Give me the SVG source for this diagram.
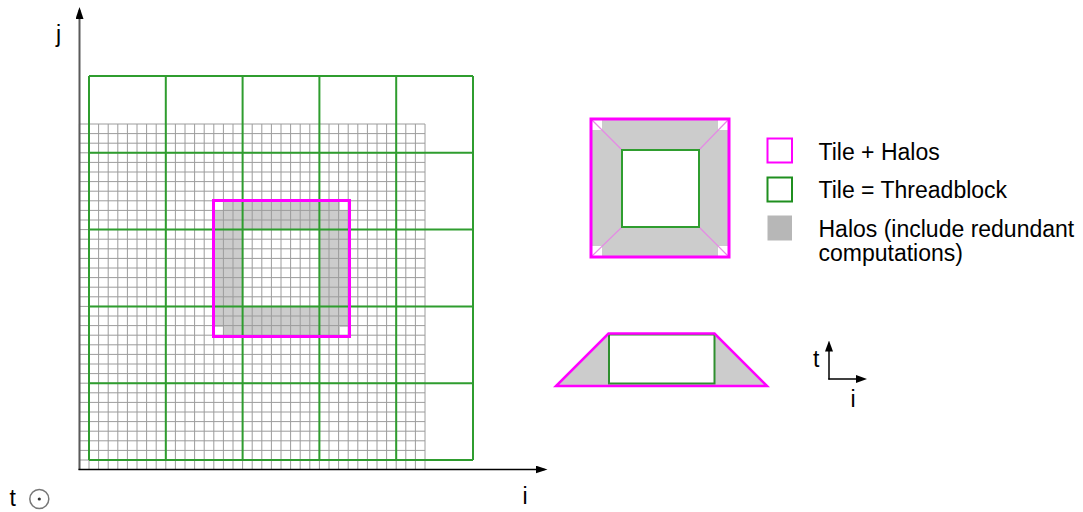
<svg xmlns="http://www.w3.org/2000/svg" width="1083" height="512" viewBox="0 0 1083 512">
<style>
  text { font-family: "Liberation Sans", Arial, sans-serif; font-size: 23px; fill: #000; }
  .grid { stroke: #9c9c9c; stroke-width: 1; fill: none; }
  .tile { stroke: #2f9d2f; stroke-width: 2; fill: none; }
  .halo { stroke: #ff00ff; stroke-width: 3; fill: none; }
  .halofill { fill: #cccccc; stroke: none; }
  .diag { stroke: #e58ae5; stroke-width: 1.2; }
</style>
<defs>
  <marker id="arr" viewBox="0 0 12 8" refX="9" refY="4" markerWidth="12" markerHeight="8" markerUnits="userSpaceOnUse" orient="auto">
    <path d="M0,0 L12,4 L0,8 Z" fill="#000"/>
  </marker>
  <marker id="arrs" viewBox="0 0 11 8" refX="8" refY="4" markerWidth="11" markerHeight="8" markerUnits="userSpaceOnUse" orient="auto">
    <path d="M0,0 L11,4 L0,8 Z" fill="#000"/>
  </marker>
</defs>
<rect width="1083" height="512" fill="#fff"/>

<g id="main-halo-fill">
  <path class="halofill" fill-rule="evenodd" d="M223.1,200.5 H339.9 V210.1 H349.5 V326.9 H339.9 V336.5 H223.1 V326.9 H213.5 V210.1 H223.1 Z M242.6,229.6 V306.4 H319.4 V229.6 Z"/>
</g>

<g id="iteration-grid">
  <path class="grid" d="M79.4 124V469.6M89 124V469.6M98.6 124V469.6M108.2 124V469.6M117.8 124V469.6M127.4 124V469.6M137 124V469.6M146.6 124V469.6M156.2 124V469.6M165.8 124V469.6M175.4 124V469.6M185 124V469.6M194.6 124V469.6M204.2 124V469.6M213.8 124V469.6M223.4 124V469.6M233 124V469.6M242.6 124V469.6M252.2 124V469.6M261.8 124V469.6M271.4 124V469.6M281 124V469.6M290.6 124V469.6M300.2 124V469.6M309.8 124V469.6M319.4 124V469.6M329 124V469.6M338.6 124V469.6M348.2 124V469.6M357.8 124V469.6M367.4 124V469.6M377 124V469.6M386.6 124V469.6M396.2 124V469.6M405.8 124V469.6M415.4 124V469.6M425 124V469.6
  M79.4 124H425M79.4 133.6H425M79.4 143.2H425M79.4 152.8H425M79.4 162.4H425M79.4 172H425M79.4 181.6H425M79.4 191.2H425M79.4 200.8H425M79.4 210.4H425M79.4 220H425M79.4 229.6H425M79.4 239.2H425M79.4 248.8H425M79.4 258.4H425M79.4 268H425M79.4 277.6H425M79.4 287.2H425M79.4 296.8H425M79.4 306.4H425M79.4 316H425M79.4 325.6H425M79.4 335.2H425M79.4 344.8H425M79.4 354.4H425M79.4 364H425M79.4 373.6H425M79.4 383.2H425M79.4 392.8H425M79.4 402.4H425M79.4 412H425M79.4 421.6H425M79.4 431.2H425M79.4 440.8H425M79.4 450.4H425M79.4 460H425"/>
</g>

<g id="tiles">
  <path class="tile" d="M89 76V460M165.8 76V460M242.6 76V460M319.4 76V460M396.2 76V460M473 76V460M89 76H473M89 152.8H473M89 229.6H473M89 306.4H473M89 383.2H473M89 460H473"/>
</g>

<g id="main-tile-halos">
  <rect class="halo" x="213.5" y="200.5" width="136" height="136"/>
</g>

<g id="connectors">
  <line id="axis-j" x1="79.5" y1="470" x2="79.5" y2="10" stroke="#5a5a5a" stroke-width="2" marker-end="url(#arr)"/>
  <line id="axis-i" x1="78.5" y1="469.5" x2="544.5" y2="469.5" stroke="#000" stroke-width="1.5" marker-end="url(#arr)"/>
  <line id="small-axis-t" x1="829" y1="379.5" x2="829" y2="343.5" stroke="#000" stroke-width="1.5" marker-end="url(#arrs)"/>
  <line id="small-axis-i" x1="828.3" y1="379" x2="864" y2="379" stroke="#000" stroke-width="1.5" marker-end="url(#arrs)"/>
</g>

<g id="axis-labels">
  <text x="56" y="42">j</text>
  <text x="522.5" y="503.5">i</text>
  <text x="9.5" y="506">t</text>
  <circle cx="39.3" cy="499" r="9.5" fill="none" stroke="#777" stroke-width="1.5"/>
  <circle cx="39.3" cy="499" r="1.6" fill="#333"/>
  <text x="813" y="367">t</text>
  <text x="850.5" y="407">i</text>
</g>

<g id="tile-top-view">
  <path class="halofill" fill-rule="evenodd" d="M602,119 H718 V130 H729 V246 H718 V257 H602 V246 H591 V130 H602 Z M622,150 V227 H699 V150 Z"/>
  <line class="diag" x1="591" y1="119" x2="622" y2="150"/>
  <line class="diag" x1="729" y1="119" x2="699" y2="150"/>
  <line class="diag" x1="591" y1="257" x2="622" y2="227"/>
  <line class="diag" x1="729" y1="257" x2="699" y2="227"/>
  <rect class="tile" x="622" y="150" width="77" height="77" fill="#fff"/>
  <rect class="halo" x="591" y="119" width="138" height="138"/>
</g>

<g id="tile-side-view">
  <polygon points="608.5,333.5 714.5,333.5 767,386 556,386" fill="#cccccc"/>
  <rect x="609" y="334.5" width="105.5" height="49" fill="#fff" stroke="#2e8f2e" stroke-width="2"/>
  <polygon points="608.5,333.5 714.5,333.5 767,386 556,386" fill="none" stroke="#ff00ff" stroke-width="2.5" stroke-linejoin="miter"/>
</g>

<g id="legend-tile-halos">
  <rect x="767.5" y="138.5" width="24.5" height="24" fill="#fff" stroke="#ff00ff" stroke-width="2"/>
  <text x="818.5" y="159.5">Tile + Halos</text>
</g>
<g id="legend-tile">
  <rect x="767.5" y="177.5" width="24.5" height="24" fill="#fff" stroke="#1f8f1f" stroke-width="2"/>
  <text x="818.5" y="198">Tile = Threadblock</text>
</g>
<g id="legend-halos">
  <rect x="767.5" y="215.5" width="24.5" height="25" fill="#b7b7b7"/>
  <text x="818.5" y="236.5">Halos (include redundant</text>
  <text x="818.5" y="261">computations)</text>
</g>
</svg>
